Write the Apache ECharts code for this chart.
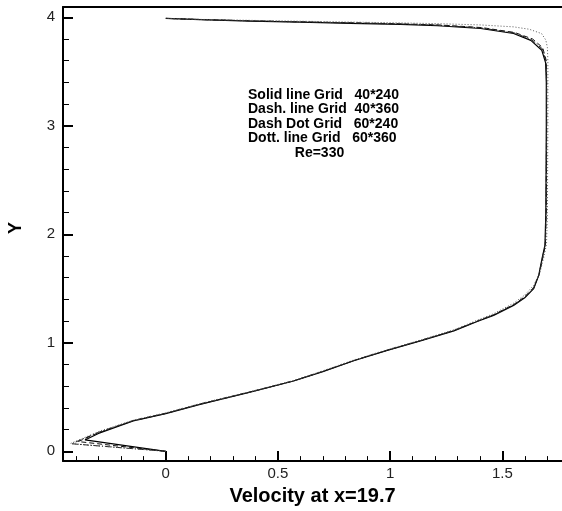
<!DOCTYPE html>
<html>
<head>
<meta charset="utf-8">
<script src="https://cdn.jsdelivr.net/npm/echarts@6.0.0/dist/echarts.min.js"></script>
<style>
html,body{margin:0;padding:0;background:#fff;}
#chart{width:562px;height:511px;}
</style>
</head>
<body>
<div id="chart"></div>
<script>
// Tick values
var xMajorTicks = [0, 0.5, 1, 1.5];
var xMinorTicks = [-0.4, -0.3, -0.2, -0.1, 0.1, 0.2, 0.3, 0.4, 0.6, 0.7, 0.8, 0.9, 1.1, 1.2, 1.3, 1.4, 1.6, 1.7];
var yMajorTicks = [0, 1, 2, 3, 4];
var yMinorTicks = [0.2, 0.4, 0.6, 0.8, 1.2, 1.4, 1.6, 1.8, 2.2, 2.4, 2.6, 2.8, 3.2, 3.4, 3.6, 3.8];

// Legend text lines
var legendLines = ['Solid line Grid   40*240', 'Dash. line Grid  40*360', 'Dash Dot Grid   60*240', 'Dott. line Grid   60*360'];
var reText = 'Re=330';

// Velocity profiles: [u, y]
var solidGrid40x240 = [
  [0, 0], [-0.36, 0.105], [-0.30, 0.165], [-0.145, 0.281], [0, 0.348], [0.153, 0.433],
  [0.376, 0.545], [0.57, 0.648], [0.70, 0.735], [0.838, 0.835], [0.987, 0.93], [1.135, 1.018],
  [1.284, 1.11], [1.388, 1.196], [1.461, 1.253], [1.55, 1.345], [1.60, 1.415], [1.64, 1.50],
  [1.662, 1.62], [1.677, 1.775], [1.69, 1.90], [1.694, 2.2], [1.695, 2.6], [1.696, 3.0],
  [1.696, 3.4], [1.693, 3.58], [1.676, 3.696], [1.627, 3.787], [1.55, 3.851], [1.403, 3.897],
  [1.211, 3.922], [1.046, 3.935], [0.823, 3.945], [0.6, 3.955], [0.376, 3.965], [0.153, 3.978], [0, 3.99]
];
var dashGrid40x360 = [
  [0, 0], [-0.39, 0.09], [-0.31, 0.163], [-0.145, 0.283], [0, 0.35], [0.153, 0.436],
  [0.376, 0.547], [0.57, 0.65], [0.70, 0.737], [0.838, 0.837], [0.987, 0.932], [1.135, 1.02],
  [1.284, 1.113], [1.388, 1.2], [1.461, 1.258], [1.55, 1.352], [1.60, 1.425], [1.64, 1.51],
  [1.664, 1.63], [1.68, 1.78], [1.692, 1.90], [1.696, 2.2], [1.697, 2.6], [1.698, 3.0],
  [1.698, 3.4], [1.696, 3.6], [1.68, 3.72], [1.635, 3.80], [1.555, 3.86], [1.41, 3.905],
  [1.215, 3.93], [1.046, 3.94], [0.823, 3.95], [0.6, 3.958], [0.376, 3.968], [0.153, 3.98], [0, 3.99]
];
var dashDotGrid60x240 = [
  [0, 0], [-0.42, 0.07], [-0.30, 0.175], [-0.145, 0.282], [0, 0.349], [0.153, 0.434],
  [0.376, 0.546], [0.57, 0.649], [0.70, 0.736], [0.838, 0.836], [0.987, 0.931], [1.135, 1.02],
  [1.284, 1.112], [1.388, 1.198], [1.461, 1.256], [1.55, 1.35], [1.60, 1.42], [1.64, 1.505],
  [1.663, 1.625], [1.678, 1.778], [1.691, 1.90], [1.695, 2.2], [1.696, 2.6], [1.697, 3.0],
  [1.697, 3.4], [1.695, 3.59], [1.678, 3.71], [1.63, 3.795], [1.552, 3.857], [1.405, 3.902],
  [1.212, 3.927], [1.046, 3.938], [0.823, 3.948], [0.6, 3.957], [0.376, 3.967], [0.153, 3.979], [0, 3.99]
];
var dottGrid60x360 = [
  [0, 0], [-0.425, 0.072], [-0.29, 0.19], [-0.14, 0.29], [0, 0.355], [0.153, 0.44],
  [0.376, 0.55], [0.57, 0.653], [0.70, 0.741], [0.838, 0.842], [0.987, 0.937], [1.135, 1.025],
  [1.284, 1.12], [1.388, 1.208], [1.461, 1.268], [1.55, 1.365], [1.60, 1.44], [1.64, 1.53],
  [1.668, 1.65], [1.685, 1.79], [1.697, 1.91], [1.701, 2.2], [1.702, 2.6], [1.703, 3.0],
  [1.703, 3.4], [1.703, 3.6], [1.701, 3.72], [1.694, 3.79], [1.675, 3.85], [1.62, 3.89],
  [1.55, 3.912], [1.40, 3.93], [1.2, 3.942], [1.0, 3.95], [0.8, 3.957], [0.6, 3.964],
  [0.376, 3.972], [0.153, 3.981], [0, 3.99]
];

var xMin = -0.458, xMax = 1.766, yMin = -0.09, yMax = 4.095;
var labelFont = 'Liberation Sans, Arial, sans-serif';

var chart = echarts.init(document.getElementById('chart'), null, {renderer: 'canvas'});

function lineSeries(name, data, type, color, width) {
  return {
    name: name, type: 'line', data: data, xAxisIndex: 0, yAxisIndex: 0,
    showSymbol: false, symbol: 'none', silent: true, smooth: false,
    lineStyle: {color: color, width: width, type: type}
  };
}

var option = {
  animation: false,
  backgroundColor: '#fff',
  grid: {left: 63, top: 7, right: 0, bottom: 47, containLabel: false},
  xAxis: [
    {
      type: 'value', min: xMin, max: xMax, position: 'bottom',
      axisLine: {show: true, onZero: false, lineStyle: {color: '#000', width: 2}},
      axisTick: {show: true, inside: true, length: 10, customValues: xMajorTicks, lineStyle: {color: '#000', width: 2}},
      axisLabel: {show: true, customValues: xMajorTicks, color: '#222', fontSize: 15, fontFamily: labelFont, margin: 5},
      splitLine: {show: false},
      name: 'Velocity at x=19.7', nameLocation: 'middle', nameGap: 21,
      nameTextStyle: {color: '#000', fontSize: 20, fontWeight: 'bold', fontFamily: labelFont}
    },
    {
      type: 'value', min: xMin, max: xMax, position: 'bottom',
      axisLine: {show: false, onZero: false},
      axisTick: {show: true, inside: true, length: 5, customValues: xMinorTicks, lineStyle: {color: '#000', width: 1}},
      axisLabel: {show: false},
      splitLine: {show: false}
    },
    {
      type: 'value', min: xMin, max: xMax, position: 'top',
      axisLine: {show: true, onZero: false, lineStyle: {color: '#000', width: 2}},
      axisTick: {show: false}, axisLabel: {show: false}, splitLine: {show: false}
    }
  ],
  yAxis: [
    {
      type: 'value', min: yMin, max: yMax, position: 'left',
      axisLine: {show: true, onZero: false, lineStyle: {color: '#000', width: 2}},
      axisTick: {show: true, inside: true, length: 10, customValues: yMajorTicks, lineStyle: {color: '#000', width: 2}},
      axisLabel: {show: true, customValues: yMajorTicks, color: '#222', fontSize: 15, fontFamily: labelFont, margin: 8},
      splitLine: {show: false}
    },
    {
      type: 'value', min: yMin, max: yMax, position: 'left',
      axisLine: {show: false, onZero: false},
      axisTick: {show: true, inside: true, length: 6, customValues: yMinorTicks, lineStyle: {color: '#000', width: 1}},
      axisLabel: {show: false},
      splitLine: {show: false}
    }
  ],
  series: [
    lineSeries('Solid line Grid 40*240', solidGrid40x240, 'solid', '#000', 1.2),
    lineSeries('Dash. line Grid 40*360', dashGrid40x360, [5, 3], '#111', 1),
    lineSeries('Dash Dot Grid 60*240', dashDotGrid60x240, [6, 2, 1, 2], '#222', 1),
    lineSeries('Dott. line Grid 60*360', dottGrid60x360, [1, 2], '#555', 1)
  ],
  graphic: [
    {type: 'text', x: 16, y: 228, rotation: Math.PI / 2,
      style: {text: 'Y', font: 'bold 18px ' + labelFont, fill: '#000', align: 'center', verticalAlign: 'middle'}},
    {type: 'text', x: 248, y: 95, style: {text: legendLines[0], font: 'bold 14px ' + labelFont, fill: '#000', align: 'left', verticalAlign: 'middle'}},
    {type: 'text', x: 248, y: 109.5, style: {text: legendLines[1], font: 'bold 14px ' + labelFont, fill: '#000', align: 'left', verticalAlign: 'middle'}},
    {type: 'text', x: 248, y: 124, style: {text: legendLines[2], font: 'bold 14px ' + labelFont, fill: '#000', align: 'left', verticalAlign: 'middle'}},
    {type: 'text', x: 248, y: 138.5, style: {text: legendLines[3], font: 'bold 14px ' + labelFont, fill: '#000', align: 'left', verticalAlign: 'middle'}},
    {type: 'text', x: 319.5, y: 153, style: {text: reText, font: 'bold 14px ' + labelFont, fill: '#000', align: 'center', verticalAlign: 'middle'}}
  ]
};
chart.setOption(option);
</script>
</body>
</html>
